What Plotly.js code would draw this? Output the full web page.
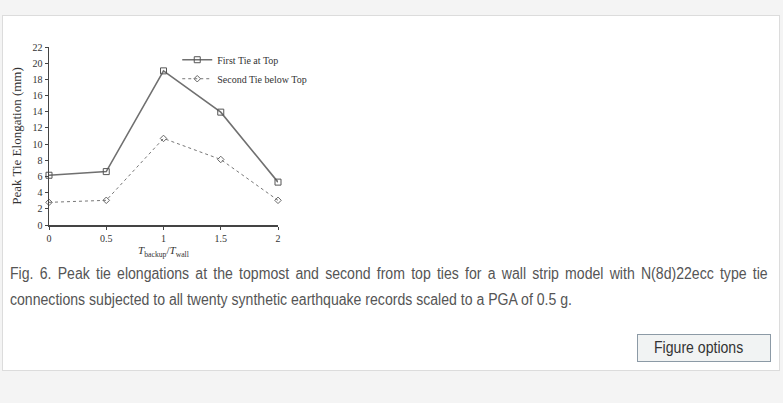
<!DOCTYPE html>
<html>
<head>
<meta charset="utf-8">
<script src="https://cdn.plot.ly/plotly-3.0.1.min.js"></script>
<style>
  html, body { margin:0; padding:0; width:783px; height:403px; background:#f4f4f4; overflow:hidden; }
  #card { position:absolute; left:2px; top:15px; width:776px; height:354px; background:#fff; border:1px solid #dcdcdc; }
  #plot { position:absolute; left:0; top:0; width:783px; height:262px; }
  #caption { position:absolute; left:10px; top:261px; width:861px; font-family:"Liberation Sans", Arial, sans-serif; font-size:16px; line-height:26px; color:#555; text-align:justify; transform:scaleX(0.88); transform-origin:0 0; }
  #btn { position:absolute; left:637px; top:334px; width:134px; height:28px; box-sizing:border-box; border:1px solid #8c9aa6; background:#f1f3f3; }
  #btn span { position:absolute; left:16px; top:0; font-family:"Liberation Sans", Arial, sans-serif; font-size:16px; color:#333; line-height:26px; transform:scaleX(0.88); transform-origin:0 0; white-space:nowrap; }
</style>
</head>
<body>
<div id="card"></div>
<div id="plot"></div>
<div id="caption">Fig. 6. Peak tie elongations at the topmost and second from top ties for a wall strip model with N(8d)22ecc type tie connections subjected to all twenty synthetic earthquake records scaled to a PGA of 0.5 g.</div>
<div id="btn"><span>Figure options</span></div>
<script>
const periodRatio = [0, 0.5, 1, 1.5, 2];
const firstTieTop = [6.15, 6.6, 19.05, 13.95, 5.3];
const secondTieBelowTop = [2.8, 3.05, 10.7, 8.1, 3.05];
const seriesNames = ['First Tie at Top', 'Second Tie below Top'];
const xTickVals = [0, 0.5, 1, 1.5, 2];
const xTickText = ['0', '0.5', '1', '1.5', '2'];
const yTickVals = [0, 2, 4, 6, 8, 10, 12, 14, 16, 18, 20, 22];

const serif = '"Liberation Serif", "Times New Roman", serif';

const traces = [
  {
    x: periodRatio, y: firstTieTop, name: seriesNames[0], type: 'scatter', mode: 'lines+markers',
    line: {color: '#707070', width: 1.6},
    marker: {symbol: 'square-open', size: 6, color: '#555', line: {width: 1}},
    cliponaxis: false
  },
  {
    x: periodRatio, y: secondTieBelowTop, name: seriesNames[1], type: 'scatter', mode: 'lines+markers',
    line: {color: '#777', width: 1, dash: 'dot'},
    marker: {symbol: 'diamond-open', size: 5, color: '#666', line: {width: 1}},
    cliponaxis: false
  }
];

const layout = {
  width: 783, height: 262,
  margin: {l: 49, r: 505, t: 47, b: 37},
  paper_bgcolor: 'rgba(0,0,0,0)', plot_bgcolor: 'rgba(0,0,0,0)',
  showlegend: true,
  legend: {
    x: 0.56, y: 1.01, xanchor: 'left', yanchor: 'top',
    bgcolor: 'rgba(0,0,0,0)', font: {family: serif, size: 10, color: '#333'},
    itemwidth: 30, tracegroupgap: 0
  },
  xaxis: {
    range: [0, 2], tickvals: xTickVals, ticktext: xTickText,
    showgrid: false, zeroline: false, showline: true, linecolor: '#444', linewidth: 1.5,
    ticks: 'outside', ticklen: 3, tickcolor: '#444', tickwidth: 1,
    tickfont: {family: serif, size: 10, color: '#333'},
    title: {text: '<i>T</i><sub>backup</sub>/<i>T</i><sub>wall</sub>', font: {family: serif, size: 11, color: '#333'}, standoff: 4}
  },
  yaxis: {
    range: [0, 22], tickvals: yTickVals,
    showgrid: false, zeroline: false, showline: true, linecolor: '#444', linewidth: 1.5,
    ticks: 'outside', ticklen: 3, tickcolor: '#444', tickwidth: 1,
    tickfont: {family: serif, size: 10, color: '#333'},
    title: {text: 'Peak Tie Elongation (mm)', font: {family: serif, size: 13, color: '#333'}, standoff: 8}
  }
};

Plotly.newPlot('plot', traces, layout, {displayModeBar: false, staticPlot: true});
</script>
</body>
</html>
